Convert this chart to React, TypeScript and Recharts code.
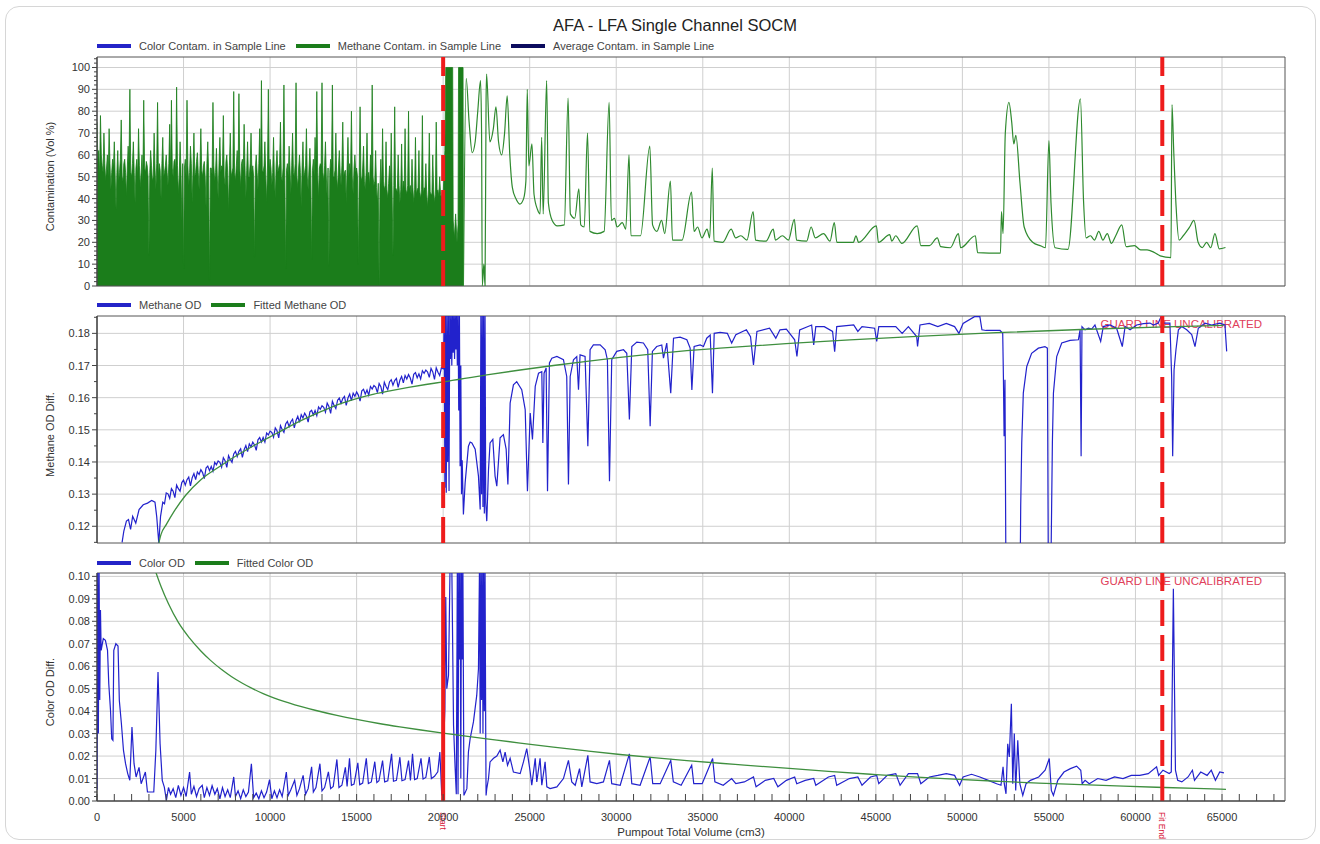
import React from 'react';
import {
  ComposedChart,
  Line,
  Area,
  XAxis,
  YAxis,
  CartesianGrid,
  ReferenceLine,
  ReferenceArea,
  Legend,
} from 'recharts';

type Pt = [number, number];

const FONT = 'Arial, "Liberation Sans", Helvetica, sans-serif';

// axis setup
const X_MAX = 68640;
const xMajorTicks = [0, 5000, 10000, 15000, 20000, 25000, 30000, 35000, 40000, 45000, 50000, 55000, 60000, 65000];
const contamTicks = [0, 10, 20, 30, 40, 50, 60, 70, 80, 90, 100];
const methaneOdTicks = [0.12, 0.13, 0.14, 0.15, 0.16, 0.17, 0.18];
const colorOdTicks = [0, 0.01, 0.02, 0.03, 0.04, 0.05, 0.06, 0.07, 0.08, 0.09, 0.1];

const fitStartVolume = 20000;
const fitEndVolume = 61550;

// panel 1 - methane contamination, dense part sampled every 50 cm3 from 0 to 20000
const methaneContamStep = 50;
const methaneContamDense = [
  75, 58, 62, 50, 78, 60, 55, 52, 70, 56, 48, 54, 60, 50, 72, 56, 44, 52, 58, 54,
  66, 50, 35, 52, 62, 48, 52, 58, 76, 50, 48, 56, 58, 52, 41, 54, 64, 56, 90, 52,
  50, 56, 66, 52, 38, 54, 58, 50, 72, 55, 45, 52, 60, 48, 85, 54, 52, 57, 55, 50,
  14, 52, 62, 55, 48, 50, 70, 54, 44, 56, 84, 50, 56, 53, 40, 56, 68, 50, 52, 55,
  60, 52, 46, 56, 74, 50, 85, 54, 50, 57, 58, 52, 91, 55, 42, 50, 66, 54, 30, 56,
  8, 54, 58, 50, 85, 55, 46, 52, 64, 56, 38, 54, 70, 50, 52, 57, 61, 52, 44, 55,
  72, 53, 50, 55, 57, 50, 36, 56, 66, 52, 2, 54, 54, 51, 84, 55, 48, 52, 63, 50,
  40, 56, 68, 52, 55, 54, 78, 50, 46, 57, 60, 52, 34, 55, 70, 50, 52, 54, 89, 52,
  48, 55, 62, 50, 88, 54, 45, 56, 58, 52, 74, 55, 40, 53, 66, 50, 50, 56, 70, 52,
  55, 50, 13, 54, 60, 52, 44, 56, 72, 50, 94, 53, 52, 55, 66, 51, 38, 54, 90, 52,
  58, 54, 46, 52, 68, 50, 40, 55, 62, 52, 54, 56, 75, 50, 48, 54, 92, 52, 8, 53,
  56, 50, 64, 54, 42, 55, 70, 52, 50, 56, 93, 50, 45, 54, 60, 52, 36, 55, 66, 50,
  52, 55, 72, 50, 44, 54, 63, 52, 12, 53, 58, 50, 68, 55, 89, 52, 40, 54, 56, 55,
  93, 52, 48, 55, 66, 50, 40, 54, 9, 52, 58, 55, 92, 50, 50, 53, 70, 50, 44, 54,
  62, 52, 46, 55, 75, 50, 52, 53, 38, 54, 68, 50, 56, 52, 80, 50, 42, 54, 60, 52,
  54, 50, 10, 52, 82, 50, 48, 54, 64, 48, 44, 52, 70, 50, 52, 46, 60, 52, 92, 50,
  46, 48, 62, 45, 38, 47, 0, 46, 58, 44, 72, 48, 44, 46, 66, 44, 40, 47, 55, 45,
  70, 44, 14, 46, 82, 45, 44, 43, 60, 46, 38, 44, 65, 42, 48, 45, 72, 44, 42, 46,
  80, 44, 46, 42, 58, 45, 38, 44, 68, 42, 44, 45, 62, 43, 40, 44, 78, 42, 45, 44,
  56, 42, 36, 44, 70, 43, 42, 42, 60, 44, 38, 42, 75, 43, 44, 41, 50, 42, 40, 43,
  42,
];

const methaneContamBlock: Pt[] = [
  [20100, 62], [20150, 100], [20550, 100], [20580, 30], [20650, 22], [20720, 33],
  [20800, 20], [20860, 28], [20890, 100], [21150, 100], [21170, 0],
];

const methaneContamTail: Pt[] = [
  [21170, 0], [21330, 95], [21500, 75], [21680, 61], [21850, 66], [22000, 80], [22160, 94],
  [22220, 70], [22260, 0], [22350, 10], [22420, 0], [22480, 85], [22510, 97], [22700, 66],
  [22900, 72], [23050, 82], [23200, 66], [23380, 60], [23550, 70], [23700, 87], [23850, 60],
  [24000, 45], [24200, 40], [24430, 37.5], [24650, 40], [24780, 48], [24860, 90], [24950, 55],
  [25130, 65], [25250, 42], [25450, 35], [25600, 33], [25690, 68], [25780, 33], [25980, 94],
  [26080, 38], [26300, 30], [26600, 27.5], [27000, 28], [27220, 86], [27350, 33], [27600, 31],
  [27840, 44.5], [27950, 28], [28150, 27], [28340, 70], [28480, 25], [28900, 24], [29300, 25],
  [29590, 84], [29720, 30], [29900, 31], [30050, 27], [30350, 29], [30550, 26], [30740, 60],
  [30850, 23], [31400, 23], [31940, 64], [32100, 28], [32350, 25], [32620, 30], [32800, 24],
  [33130, 48], [33250, 21], [33800, 21], [34350, 43], [34500, 25], [34700, 27], [34950, 22],
  [35250, 26], [35400, 22], [35550, 54], [35650, 20.5], [36150, 20], [36640, 26], [36900, 22],
  [37200, 23], [37550, 21], [37910, 34], [38050, 21], [38650, 20.5], [39070, 26], [39200, 21],
  [39600, 23], [39950, 21], [40290, 30.5], [40420, 21], [41000, 20.5], [41260, 27], [41500, 22],
  [41980, 24], [42350, 20.5], [42600, 29], [42750, 20], [43700, 20], [43850, 23], [44000, 20],
  [45030, 27.5], [45150, 20], [45800, 23.5], [45920, 20.5], [46150, 23], [46500, 19.5],
  [47390, 27.5], [47600, 18.5], [48100, 18.5], [48550, 22], [48750, 18], [49300, 17.5],
  [49770, 24], [49900, 17.5], [50750, 23], [50880, 15.3], [52200, 15], [52260, 34], [52350, 24],
  [52480, 70], [52690, 84], [52850, 75], [52970, 65], [53090, 69], [53330, 47], [53570, 27],
  [54060, 20], [54550, 18.3], [54800, 17.5], [55000, 66.5], [55120, 38], [55360, 17.5],
  [56100, 16.8], [56820, 85.6], [57000, 39], [57150, 22], [57400, 23], [57630, 21], [57880, 25],
  [58120, 21], [58370, 24], [58610, 19.5], [58860, 23], [59210, 28], [59460, 18], [59940, 18.5],
  [60300, 16.5], [60670, 16.5], [61050, 15.5], [61430, 13.8], [62050, 13], [62110, 83],
  [62210, 62], [62350, 36], [62520, 21], [62760, 23], [63130, 27], [63380, 30], [63620, 20],
  [63860, 17.6], [64110, 20], [64350, 17.5], [64590, 24], [64840, 17], [65200, 17.6],
];

// panel 2 - methane OD
const methaneOdEarly: Pt[] = [
  [1450, 0.115], [1550, 0.1185], [1700, 0.1216], [1820, 0.1221], [1940, 0.119], [2060, 0.1231],
  [2240, 0.121], [2430, 0.1252], [2670, 0.1267], [2920, 0.1272], [3160, 0.128], [3350, 0.1275],
  [3450, 0.123], [3570, 0.1148], [3670, 0.123],
];

// sampled every 100 cm3 from 3800 to 19900
const methaneOdDenseStart = 3800;
const methaneOdDenseStep = 100;
const methaneOdDense = [
  0.1275, 0.127,
  0.1304, 0.1301, 0.1287, 0.1317, 0.1309, 0.1289, 0.1328, 0.1317, 0.1309, 0.1336,
  0.1344, 0.1328, 0.1345, 0.1353, 0.1326, 0.1351, 0.1364, 0.1345, 0.1369, 0.1361,
  0.1376, 0.1367, 0.1348, 0.1381, 0.1387, 0.1373, 0.1386, 0.1371, 0.1399, 0.1391,
  0.1403, 0.1399, 0.1384, 0.1413, 0.1404, 0.1383, 0.142, 0.1408, 0.1399, 0.1425,
  0.1433, 0.1417, 0.1433, 0.1441, 0.1414, 0.1438, 0.1451, 0.1432, 0.1456, 0.1447,
  0.1462, 0.1453, 0.1436, 0.1469, 0.1476, 0.1462, 0.1476, 0.1462, 0.149, 0.1484,
  0.1496, 0.1492, 0.1477, 0.1506, 0.1497, 0.1475, 0.1513, 0.1501, 0.1492, 0.1518,
  0.1526, 0.151, 0.1525, 0.1533, 0.1506, 0.1529, 0.1542, 0.1523, 0.1547, 0.1537,
  0.1552, 0.1542, 0.1524, 0.1556, 0.1561, 0.1546, 0.156, 0.1544, 0.1571, 0.1564,
  0.1575, 0.157, 0.1555, 0.1583, 0.1573, 0.1551, 0.1589, 0.1576, 0.1566, 0.1592,
  0.1599, 0.1582, 0.1597, 0.1604, 0.1576, 0.1599, 0.1611, 0.1591, 0.1614, 0.1604,
  0.1618, 0.1608, 0.1589, 0.1621, 0.1626, 0.1611, 0.1624, 0.1608, 0.1635, 0.1627,
  0.1638, 0.1633, 0.1616, 0.1644, 0.1634, 0.1611, 0.1648, 0.1635, 0.1625, 0.1649,
  0.1656, 0.1639, 0.1653, 0.166, 0.1632, 0.1654, 0.1666, 0.1646, 0.1669, 0.1658,
  0.1672, 0.1661, 0.1642, 0.1673, 0.1678, 0.1662, 0.1674, 0.1658, 0.1684, 0.1676,
  0.1686, 0.168, 0.1663, 0.1691, 0.168, 0.1657, 0.1693, 0.1679, 0.1669, 0.1693,
];

const methaneOdLate: Pt[] = [
  [20000, 0.169], [20020, 0.17], [20060, 0.186], [20100, 0.132], [20140, 0.186], [20180, 0.1304],
  [20220, 0.186], [20260, 0.14], [20300, 0.186], [20340, 0.131], [20380, 0.186], [20420, 0.172],
  [20460, 0.186], [20500, 0.17], [20540, 0.186], [20580, 0.174], [20620, 0.186], [20660, 0.172],
  [20700, 0.186], [20740, 0.175], [20780, 0.186], [20820, 0.17], [20860, 0.186], [20900, 0.156],
  [20940, 0.186], [20980, 0.1387], [21020, 0.17], [21060, 0.13], [21100, 0.1405], [21170, 0.1237],
  [21270, 0.1335], [21460, 0.1449], [21560, 0.1462], [21660, 0.1459], [21850, 0.144],
  [22040, 0.1356], [22140, 0.1252], [22180, 0.186], [22220, 0.13], [22260, 0.186], [22300, 0.126],
  [22340, 0.186], [22380, 0.124], [22420, 0.186], [22460, 0.1273], [22520, 0.1216],
  [22620, 0.1376], [22710, 0.1459], [22870, 0.147], [23000, 0.1356], [23100, 0.1325],
  [23290, 0.1475], [23480, 0.1485], [23640, 0.144], [23740, 0.133], [23870, 0.1583],
  [24060, 0.164], [24250, 0.165], [24540, 0.1625], [24740, 0.1563], [24870, 0.1309],
  [25030, 0.1552], [25160, 0.147], [25320, 0.1635], [25510, 0.1676], [25700, 0.1681],
  [25760, 0.1459], [25830, 0.1676], [25950, 0.1692], [26030, 0.1309], [26140, 0.1708],
  [26280, 0.1723], [26570, 0.1728], [26950, 0.1718], [27140, 0.1666], [27240, 0.133],
  [27340, 0.1666], [27530, 0.1718], [27720, 0.1728], [27820, 0.1625], [27910, 0.1733],
  [28200, 0.1728], [28360, 0.1449], [28490, 0.1749], [28680, 0.1764], [29070, 0.1764],
  [29360, 0.1749], [29490, 0.1718], [29610, 0.134], [29740, 0.1718], [30030, 0.1744],
  [30420, 0.1749], [30610, 0.1738], [30760, 0.1532], [30900, 0.1759], [31190, 0.1773],
  [31570, 0.177], [31820, 0.1749], [31960, 0.1511], [32090, 0.1744], [32340, 0.1759],
  [32630, 0.1764], [32730, 0.1723], [32920, 0.177], [33150, 0.1614], [33310, 0.1785],
  [33690, 0.1788], [34080, 0.178], [34270, 0.1754], [34370, 0.1624], [34500, 0.1759],
  [34850, 0.1764], [35040, 0.1759], [35230, 0.1785], [35430, 0.1795], [35560, 0.1614],
  [35660, 0.18], [36000, 0.1803], [36420, 0.18], [36670, 0.177], [36910, 0.1796],
  [37520, 0.1811], [37760, 0.179], [37930, 0.1702], [38130, 0.1806], [38860, 0.1816],
  [39220, 0.1785], [39460, 0.1811], [39830, 0.1813], [40310, 0.178], [40440, 0.1728],
  [40600, 0.1811], [41290, 0.1826], [41410, 0.1764], [41530, 0.1821], [42020, 0.1821],
  [42500, 0.1806], [42620, 0.1743], [42740, 0.1821], [43720, 0.1826], [43960, 0.1806],
  [44200, 0.1821], [44930, 0.1816], [45050, 0.1775], [45170, 0.1821], [46150, 0.1821],
  [46520, 0.18], [46880, 0.1821], [47360, 0.179], [47410, 0.1759], [47550, 0.1826],
  [48090, 0.1831], [48580, 0.1821], [49070, 0.1831], [49550, 0.1821], [49800, 0.18],
  [50040, 0.1831], [50700, 0.1852], [51010, 0.1852], [51130, 0.1811], [51370, 0.1809],
  [52175, 0.1809], [52330, 0.18], [52370, 0.1666], [52410, 0.148], [52460, 0.1656],
  [52520, 0.1], [53330, 0.1], [53370, 0.1263], [53430, 0.146], [53520, 0.1614], [53720, 0.1697],
  [54000, 0.1738], [54390, 0.1754], [54770, 0.1759], [54910, 0.1754], [54970, 0.1], [55100, 0.1],
  [55200, 0.146], [55260, 0.1614], [55450, 0.1728], [55740, 0.177], [56220, 0.1778],
  [56700, 0.178], [56800, 0.1811], [56860, 0.1418], [56910, 0.1821], [57090, 0.1811],
  [57280, 0.1816], [57470, 0.1813], [57660, 0.1826], [57990, 0.1775], [58140, 0.1821],
  [58530, 0.1826], [58910, 0.1816], [59240, 0.1759], [59400, 0.1821], [59690, 0.1811],
  [60070, 0.1826], [60460, 0.183], [60840, 0.1832], [61040, 0.1826], [61320, 0.1832],
  [61520, 0.1857], [61610, 0.1832], [61990, 0.1832], [62090, 0.1666], [62150, 0.1418],
  [62230, 0.1687], [62340, 0.1749], [62480, 0.1811], [62670, 0.1821], [62960, 0.1811],
  [63250, 0.1796], [63440, 0.1759], [63630, 0.1816], [64020, 0.1832], [64400, 0.1826],
  [64880, 0.1832], [65170, 0.1826], [65270, 0.1744],
];

const fittedMethaneOd: Pt[] = [
  [3500, 0.113], [3700, 0.1175], [4000, 0.1205], [4500, 0.125], [5100, 0.1295], [6000, 0.1345],
  [7000, 0.1383], [8000, 0.1418], [9000, 0.1449], [10000, 0.1478], [11000, 0.1507],
  [12000, 0.1534], [13000, 0.1558], [14000, 0.158], [15000, 0.1597], [16000, 0.1611],
  [17000, 0.1622], [18000, 0.1632], [19000, 0.1641], [20000, 0.1649], [22520, 0.1671],
  [24450, 0.1686], [26370, 0.17], [28300, 0.1713], [30220, 0.1725], [32150, 0.1736],
  [34080, 0.1746], [36000, 0.1754], [39810, 0.1768], [43500, 0.178], [47100, 0.179],
  [51970, 0.1802], [56860, 0.1812], [61700, 0.182], [65100, 0.1825],
];

// panel 3 - color OD
const colorOd: Pt[] = [
  [0, 0.005], [40, 0.105], [80, 0.03], [120, 0.105], [160, 0.045], [200, 0.085], [240, 0.0671],
  [364, 0.0723], [486, 0.0715], [608, 0.0671], [680, 0.0522], [780, 0.0404], [850, 0.0277],
  [920, 0.027], [970, 0.0671], [1090, 0.07], [1215, 0.069], [1290, 0.0448], [1410, 0.0344],
  [1530, 0.0225], [1650, 0.0166], [1775, 0.0122], [1895, 0.0092], [2020, 0.0329], [2140, 0.0166],
  [2260, 0.0107], [2430, 0.015], [2550, 0.0077], [2795, 0.0129], [2915, 0.004], [3280, 0.004],
  [3400, 0.0225], [3525, 0.0574], [3645, 0.0255], [3770, 0.0092], [3890, 0.0062], [4010, 0.0003],
  [4130, 0.006], [4250, 0.003], [4400, 0.0055], [4550, 0.0015], [4700, 0.007], [4850, 0.0025],
  [5000, 0.006], [5150, 0.002], [5350, 0.0129], [5450, 0.003], [5600, 0.0065], [5750, 0.002],
  [5900, 0.0055], [6080, 0.007], [6200, 0.0015], [6350, 0.006], [6500, 0.0025], [6650, 0.0068],
  [6810, 0.003], [6950, 0.0055], [7100, 0.001], [7250, 0.006], [7400, 0.002], [7550, 0.005],
  [7700, 0.0015], [7900, 0.0107], [8000, 0.002], [8150, 0.0045], [8300, 0.001], [8450, 0.005],
  [8600, 0.002], [8750, 0.004], [8920, 0.0166], [9050, 0.0015], [9200, 0.0035], [9350, 0.001],
  [9500, 0.0045], [9650, 0.0015], [9800, 0.004], [9970, 0.0095], [10100, 0.001], [10250, 0.0045],
  [10400, 0.0015], [10550, 0.005], [10700, 0.002], [10940, 0.0129], [11050, 0.0025],
  [11200, 0.005], [11420, 0.0092], [11550, 0.0025], [11700, 0.0055], [11910, 0.0114],
  [12050, 0.003], [12200, 0.0055], [12400, 0.0152], [12500, 0.004], [12650, 0.006],
  [12880, 0.0166], [13000, 0.0045], [13150, 0.006], [13370, 0.013], [13500, 0.0055],
  [13650, 0.0065], [13860, 0.0185], [13980, 0.006], [14150, 0.007], [14350, 0.015],
  [14450, 0.0065], [14590, 0.019], [14700, 0.007], [14850, 0.0075], [15070, 0.017],
  [15180, 0.0072], [15350, 0.008], [15560, 0.019], [15680, 0.0078], [15850, 0.0085],
  [16050, 0.0175], [16170, 0.0082], [16290, 0.009], [16500, 0.018], [16620, 0.0085],
  [16800, 0.009], [17020, 0.021], [17130, 0.0088], [17300, 0.0092], [17500, 0.0195],
  [17620, 0.009], [17800, 0.0095], [18000, 0.018], [18110, 0.0092], [18230, 0.021],
  [18350, 0.0095], [18500, 0.01], [18720, 0.019], [18840, 0.0098], [19000, 0.0105],
  [19200, 0.0196], [19320, 0.01], [19500, 0.011], [19690, 0.013], [19810, 0.0218],
  [19920, 0.0025], [20020, 0.0233], [20100, 0.041], [20150, 0.0908], [20210, 0.05],
  [20310, 0.056], [20400, 0.105], [20500, 0.105], [20600, 0.0337], [20690, 0.015],
  [20760, 0.003], [20820, 0.105], [20860, 0.003], [20900, 0.105], [20940, 0.063], [20980, 0.105],
  [21020, 0.01], [21060, 0.105], [21100, 0.063], [21140, 0.105], [21200, 0.0025],
  [21370, 0.0055], [21460, 0.0218], [21560, 0.0278], [21750, 0.0352], [21940, 0.047],
  [22040, 0.0589], [22100, 0.105], [22140, 0.03], [22180, 0.105], [22220, 0.045], [22260, 0.105],
  [22300, 0.03], [22340, 0.105], [22380, 0.04], [22420, 0.105], [22460, 0.03], [22480, 0.0025],
  [22520, 0.0055], [22620, 0.01], [22710, 0.0174], [22910, 0.019], [23100, 0.02],
  [23290, 0.0226], [23450, 0.0174], [23580, 0.0218], [23720, 0.0159], [23870, 0.019],
  [24060, 0.0129], [24450, 0.0122], [24640, 0.0174], [24830, 0.0233], [25030, 0.0129],
  [25120, 0.007], [25320, 0.019], [25410, 0.0085], [25600, 0.019], [25700, 0.007],
  [25890, 0.0174], [25990, 0.0063], [26180, 0.0055], [26570, 0.0063], [26950, 0.01],
  [27240, 0.0181], [27430, 0.0085], [27630, 0.007], [27880, 0.0144], [28010, 0.0063],
  [28360, 0.0203], [28490, 0.0085], [28880, 0.0077], [29260, 0.0085], [29610, 0.0181],
  [29740, 0.0077], [30230, 0.007], [30760, 0.021], [30900, 0.0077], [31380, 0.007],
  [31960, 0.0196], [32110, 0.0077], [32540, 0.0077], [33150, 0.0181], [33300, 0.0085],
  [33750, 0.007], [34360, 0.0159], [34480, 0.0077], [34965, 0.0077], [35570, 0.0189],
  [35700, 0.0085], [36180, 0.007], [36670, 0.01], [36910, 0.0077], [37400, 0.0085],
  [37930, 0.0107], [38080, 0.0063], [38610, 0.0092], [39100, 0.01], [39340, 0.0063],
  [39830, 0.0092], [40310, 0.0107], [40430, 0.0077], [40920, 0.0092], [41410, 0.01],
  [41530, 0.007], [42260, 0.0107], [42620, 0.0114], [42740, 0.007], [43470, 0.01],
  [43960, 0.0107], [44200, 0.007], [44690, 0.0107], [45050, 0.0114], [45170, 0.0077],
  [45660, 0.0114], [46150, 0.0122], [46400, 0.007], [46880, 0.0122], [47410, 0.0122],
  [47600, 0.0077], [48090, 0.0107], [48580, 0.0114], [49070, 0.0122], [49550, 0.0114],
  [49840, 0.007], [50040, 0.0107], [50530, 0.0119], [51010, 0.0107], [51500, 0.0092],
  [51980, 0.0077], [52230, 0.007], [52350, 0.0152], [52420, 0.0077], [52520, 0.0032],
  [52620, 0.0255], [52710, 0.0196], [52830, 0.0433], [52910, 0.0077], [53000, 0.03],
  [53080, 0.0047], [53200, 0.027], [53320, 0.0077], [53490, 0.0025], [53680, 0.0077],
  [53930, 0.0092], [54410, 0.0107], [54780, 0.0137], [55020, 0.0189], [55140, 0.0047],
  [55260, 0.0025], [55510, 0.0092], [55870, 0.0129], [56240, 0.0144], [56600, 0.0155],
  [56840, 0.0137], [56920, 0.0077], [57090, 0.0092], [57330, 0.0077], [57820, 0.01],
  [58300, 0.0092], [58790, 0.0107], [59280, 0.01], [59760, 0.0114], [60250, 0.0114],
  [60740, 0.0122], [61220, 0.0152], [61340, 0.0114], [61590, 0.0137], [61950, 0.0122],
  [62070, 0.0129], [62190, 0.0945], [62310, 0.0137], [62440, 0.0092], [62680, 0.0085],
  [63040, 0.0107], [63290, 0.0137], [63410, 0.0092], [63770, 0.0129], [64140, 0.0114],
  [64380, 0.0137], [64620, 0.0092], [64870, 0.0129], [65110, 0.0125],
];

const fittedColorOd: Pt[] = [
  [3300, 0.104], [3700, 0.0955], [4130, 0.0878], [4700, 0.0795], [5350, 0.0725], [6000, 0.0668],
  [6560, 0.0626], [7200, 0.0585], [7780, 0.0553], [8400, 0.0524], [8990, 0.05], [9600, 0.0478],
  [10210, 0.0459], [10800, 0.0443], [11430, 0.0428], [12600, 0.0404], [13860, 0.0381],
  [15000, 0.0363], [16290, 0.0345], [17500, 0.033], [18720, 0.0316], [20000, 0.0302],
  [21200, 0.029], [22520, 0.0277], [24450, 0.0258], [26370, 0.024], [28300, 0.0223],
  [30230, 0.0207], [32150, 0.0193], [34080, 0.018], [36000, 0.0168], [37400, 0.016],
  [39800, 0.0146], [42260, 0.0132], [44700, 0.0119], [47120, 0.0107], [49500, 0.0097],
  [51980, 0.0088], [54400, 0.008], [56840, 0.0073], [59300, 0.0066], [61700, 0.006],
  [63500, 0.0056], [65230, 0.0052],
];

const legend1 = [
  { name: 'Color Contam. in Sample Line', color: '#2424c8' },
  { name: 'Methane Contam. in Sample Line', color: '#1b7d1b' },
  { name: 'Average Contam. in Sample Line', color: '#0c0c5e' },
];
const legend2 = [
  { name: 'Methane OD', color: '#2424c8' },
  { name: 'Fitted Methane OD', color: '#1b7d1b' },
];
const legend3 = [
  { name: 'Color OD', color: '#2424c8' },
  { name: 'Fitted Color OD', color: '#1b7d1b' },
];

const rows = (pts: Pt[]) => pts.map(([v, y]) => ({ v, y }));
const sampled = (start: number, step: number, values: number[]) =>
  values.map((y, i) => ({ v: start + i * step, y }));
const steps = (a: number, b: number, s: number) => {
  const r: number[] = [];
  for (let v = a; v <= b + 1e-9; v += s) r.push(+v.toFixed(4));
  return r;
};

const denseRows = [...sampled(0, methaneContamStep, methaneContamDense), ...rows(methaneContamBlock)];
const methaneOdRows = [
  ...rows(methaneOdEarly),
  ...sampled(methaneOdDenseStart, methaneOdDenseStep, methaneOdDense),
  ...rows(methaneOdLate),
];

const xMinorTicks = steps(0, 68000, 1000);

const BLUE = '#2222cc';
const GREEN = '#1b7d1b';
const FIT_GREEN = '#3f8f3f';
const RED = '#ee1c1c';

const LegendRow = ({ items }: { items: { name: string; color: string }[] }) => (
  <div style={{ display: 'flex', alignItems: 'center', fontFamily: FONT, fontSize: 11, color: '#444', whiteSpace: 'nowrap' }}>
    {items.map((it) => (
      <span key={it.name} style={{ display: 'flex', alignItems: 'center', marginRight: 10 }}>
        <span style={{ display: 'inline-block', width: 34, height: 4, background: it.color, marginRight: 8 }} />
        {it.name}
      </span>
    ))}
  </div>
);

const makeYTick = (majors: number[], digits: number) => (props: any) => {
  const { x, y, payload } = props;
  const v = payload.value as number;
  const major = majors.some((m) => Math.abs(m - v) < 1e-7);
  return (
    <g>
      <line x1={x - (major ? 5 : 3)} x2={x} y1={y} y2={y} stroke="#444" />
      {major && (
        <text x={x - 7} y={y} dy={4} textAnchor="end" fontSize={11} fontFamily={FONT} fill="#333">
          {v.toFixed(digits)}
        </text>
      )}
    </g>
  );
};

const XTick = (props: any) => {
  const { x, y, payload } = props;
  const major = xMajorTicks.includes(payload.value);
  return (
    <g>
      <line x1={x} x2={x} y1={y} y2={y - 7} stroke="#444" />
      {major && (
        <text x={x} y={y + 20} textAnchor="middle" fontSize={11} fontFamily={FONT} fill="#333">
          {payload.value}
        </text>
      )}
    </g>
  );
};

const yTitle = (text: string) => (props: any) => {
  const vb = props.viewBox;
  const cx = 50;
  const cy = vb.y + vb.height / 2 + 5;
  return (
    <text x={cx} y={cy} transform={`rotate(-90, ${cx}, ${cy})`} textAnchor="middle" dy={4} fontSize={11} fontFamily={FONT} fill="#333">
      {text}
    </text>
  );
};

const markerLabel = (text: string) => (props: any) => {
  const vb = props.viewBox;
  const x = vb.x;
  const y = vb.y + vb.height + 11;
  return (
    <text x={x} y={y} transform={`rotate(90, ${x}, ${y})`} dy={3} fontSize={8.5} fontFamily={FONT} fill="#d8203a">
      {text}
    </text>
  );
};

const guardLabel = (props: any) => {
  const vb = props.viewBox;
  return (
    <text x={vb.x + vb.width - 23} y={vb.y + 12} textAnchor="end" fontSize={11.5} fontFamily={FONT} fill="#e0405a">
      GUARD LINE UNCALIBRATED
    </text>
  );
};

const chartMargin = (top: number, bottom: number) => ({ top, right: 35, bottom, left: 37 });

const App = () => {
  return (
    <div style={{ position: 'absolute', left: 0, top: 0, width: 1320, height: 844, overflow: 'hidden', background: '#fff', fontFamily: FONT }}>
      <div style={{ position: 'absolute', left: 5, top: 6, width: 1309, height: 832, border: '1px solid #d6d6d6', borderRadius: 14 }} />
      <div style={{ position: 'absolute', left: 0, top: 16, width: 1350, textAlign: 'center', fontSize: 16.5, color: '#222' }}>
        AFA - LFA Single Channel SOCM
      </div>

      {/* panel 1 */}
      <div style={{ position: 'absolute', left: 0, top: 0 }}>
        <ComposedChart width={1320} height={291} margin={chartMargin(57, 5)}>
          <CartesianGrid stroke="#cfcfcf" horizontalValues={contamTicks} verticalValues={xMajorTicks} />
          <XAxis dataKey="v" type="number" domain={[0, X_MAX]} hide allowDataOverflow />
          <YAxis
            type="number"
            domain={[0, 104.8]}
            allowDataOverflow
            ticks={steps(0, 104, 2)}
            interval={0}
            tick={makeYTick(contamTicks, 0)}
            tickSize={0}
            tickMargin={0}
            tickLine={false}
            axisLine={{ stroke: '#444' }}
            width={60}
            label={yTitle('Contamination (Vol %)')}
          />
          <Legend
            verticalAlign="middle"
            align="center"
            wrapperStyle={{ top: 40, left: 97, width: 'auto' }}
            content={() => <LegendRow items={legend1} />}
          />
          <Area data={denseRows} dataKey="y" type="linear" stroke={GREEN} fill={GREEN} fillOpacity={1} strokeWidth={0.8} dot={false} activeDot={false} isAnimationActive={false} />
          <Line data={rows(methaneContamTail)} dataKey="y" type="monotone" stroke="#2f8a2f" strokeWidth={1.2} dot={false} activeDot={false} isAnimationActive={false} />
          <ReferenceLine x={fitStartVolume} stroke={RED} strokeWidth={4} strokeDasharray="26 9" />
          <ReferenceLine x={fitEndVolume} stroke={RED} strokeWidth={4} strokeDasharray="26 9" />
          <ReferenceArea x1={0} x2={X_MAX} y1={0} y2={104.8} fill="none" stroke="#555" strokeWidth={1} />
        </ComposedChart>
      </div>

      {/* panel 2 */}
      <div style={{ position: 'absolute', left: 0, top: 290 }}>
        <ComposedChart width={1320} height={258} margin={chartMargin(26, 5)}>
          <CartesianGrid stroke="#cfcfcf" horizontalValues={methaneOdTicks} verticalValues={xMajorTicks} />
          <XAxis dataKey="v" type="number" domain={[0, X_MAX]} hide allowDataOverflow />
          <YAxis
            type="number"
            domain={[0.1148, 0.1854]}
            allowDataOverflow
            ticks={steps(0.115, 0.185, 0.005)}
            interval={0}
            tick={makeYTick(methaneOdTicks, 2)}
            tickSize={0}
            tickMargin={0}
            tickLine={false}
            axisLine={{ stroke: '#333' }}
            width={60}
            label={yTitle('Methane OD Diff.')}
          />
          <Legend
            verticalAlign="middle"
            align="center"
            wrapperStyle={{ top: 9, left: 97, width: 'auto' }}
            content={() => <LegendRow items={legend2} />}
          />
          <Line data={methaneOdRows} dataKey="y" type="linear" stroke={BLUE} strokeWidth={1.2} dot={false} activeDot={false} isAnimationActive={false} />
          <Line data={rows(fittedMethaneOd)} dataKey="y" type="monotone" stroke={FIT_GREEN} strokeWidth={1.3} dot={false} activeDot={false} isAnimationActive={false} />
          <ReferenceLine x={fitStartVolume} stroke={RED} strokeWidth={4} strokeDasharray="26 9" />
          <ReferenceLine x={fitEndVolume} stroke={RED} strokeWidth={4} strokeDasharray="26 9" />
          <ReferenceArea x1={0} x2={X_MAX} y1={0.1148} y2={0.1854} fill="none" stroke="#555" strokeWidth={1} label={guardLabel} />
        </ComposedChart>
      </div>

      {/* panel 3 */}
      <div style={{ position: 'absolute', left: 0, top: 548 }}>
        <ComposedChart width={1320} height={296} margin={chartMargin(25, 0)}>
          <CartesianGrid stroke="#cfcfcf" horizontalValues={colorOdTicks} verticalValues={xMajorTicks} />
          <XAxis
            dataKey="v"
            type="number"
            domain={[0, X_MAX]}
            allowDataOverflow
            ticks={xMinorTicks}
            interval={0}
            tick={XTick}
            tickSize={0}
            tickMargin={0}
            tickLine={false}
            axisLine={{ stroke: '#444' }}
            height={43}
            label={{ value: 'Pumpout Total Volume (cm3)', position: 'insideBottom', offset: 8, fontSize: 11.5, fontFamily: FONT, fill: '#333' }}
          />
          <YAxis
            type="number"
            domain={[0, 0.1015]}
            allowDataOverflow
            ticks={steps(0, 0.1, 0.002)}
            interval={0}
            tick={makeYTick(colorOdTicks, 2)}
            tickSize={0}
            tickMargin={0}
            tickLine={false}
            axisLine={{ stroke: '#444' }}
            width={60}
            label={yTitle('Color OD Diff.')}
          />
          <Legend
            verticalAlign="middle"
            align="center"
            wrapperStyle={{ top: 9, left: 97, width: 'auto' }}
            content={() => <LegendRow items={legend3} />}
          />
          <Line data={rows(colorOd)} dataKey="y" type="linear" stroke={BLUE} strokeWidth={1.2} dot={false} activeDot={false} isAnimationActive={false} />
          <Line data={rows(fittedColorOd)} dataKey="y" type="monotone" stroke={FIT_GREEN} strokeWidth={1.3} dot={false} activeDot={false} isAnimationActive={false} />
          <ReferenceLine x={fitStartVolume} stroke={RED} strokeWidth={4} label={markerLabel('Start')} />
          <ReferenceLine x={fitEndVolume} stroke={RED} strokeWidth={4} strokeDasharray="26 9" label={markerLabel('Fit End')} />
          <ReferenceArea x1={0} x2={X_MAX} y1={0} y2={0.1015} fill="none" stroke="#555" strokeWidth={1} label={guardLabel} />
        </ComposedChart>
      </div>
    </div>
  );
};

export default App;
